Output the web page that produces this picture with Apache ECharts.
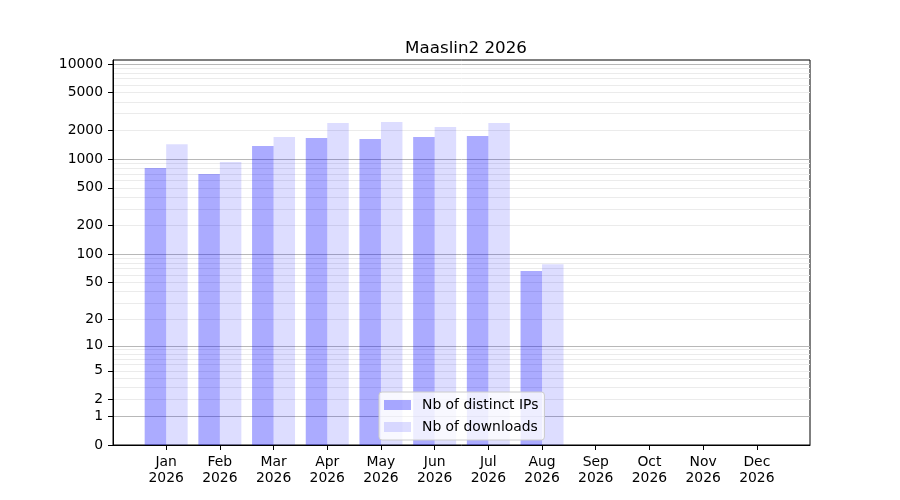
<!DOCTYPE html>
<html>
<head>
<meta charset="utf-8">
<script src="https://cdn.jsdelivr.net/npm/echarts@6/dist/echarts.min.js"></script>
<style>
  html, body { margin: 0; padding: 0; background: #fff; }
  #chart { width: 900px; height: 500px; }
</style>
</head>
<body>
<div id="chart"></div>
<script>
// data
var months = ['Jan', 'Feb', 'Mar', 'Apr', 'May', 'Jun', 'Jul', 'Aug', 'Sep', 'Oct', 'Nov', 'Dec'];
var year = '2026';
var distinctIPs = [810, 700, 1377, 1671, 1632, 1712, 1754, 66, 0, 0, 0, 0];
var downloads = [1435, 935, 1712, 2403, 2460, 2181, 2403, 78, 0, 0, 0, 0];
var yTickLabels = [0, 1, 2, 5, 10, 20, 50, 100, 200, 500, 1000, 2000, 5000, 10000];
var yMajorGrid = [1, 10, 100, 1000, 10000];
var yTop = 11000;

// symlog-like scale: log10(1 + x)
function fwd(v) { return Math.log10(1 + v); }
function inv(t) { return Math.round(Math.pow(10, t) - 1); }

var yMinorGrid = [];
for (var d = 1; d <= 1000; d *= 10) {
  for (var k = 2; k <= 9; k++) yMinorGrid.push(k * d);
}

function toPoints(arr) {
  return arr.map(function (v, i) { return [i, fwd(v)]; });
}

var font = 'DejaVu Sans';
var chart = echarts.init(document.getElementById('chart'), null, { renderer: 'canvas' });

function helperAxis(values, color) {
  return {
    type: 'value',
    position: 'left',
    min: 0,
    max: fwd(yTop),
    axisLine: { show: false, onZero: false },
    axisTick: { show: false, customValues: values.map(fwd) },
    axisLabel: { show: false },
    splitLine: { show: true, lineStyle: { color: color, width: 1 } }
  };
}

var option = {
  animation: false,
  backgroundColor: '#fff',
  title: {
    text: 'Maaslin2 ' + year,
    left: 461,
    top: 35,
    textAlign: 'center',
    textStyle: { fontFamily: font, fontSize: 16.7, fontWeight: 'normal', color: '#000' }
  },
  legend: {
    orient: 'vertical',
    left: 379,
    top: 392,
    padding: [6, 6, 6, 5],
    itemGap: 8,
    itemWidth: 27,
    itemHeight: 10,
    icon: 'rect',
    backgroundColor: 'rgba(255,255,255,0.8)',
    borderColor: '#cccccc',
    borderWidth: 1,
    borderRadius: 3,
    textStyle: { fontFamily: font, fontSize: 13.9, color: '#000', padding: [0, 0, 0, 6] },
    data: ['Nb of distinct IPs', 'Nb of downloads']
  },
  grid: {
    left: 113,
    right: 90,
    top: 60,
    bottom: 55,
    show: true,
    borderColor: '#000',
    borderWidth: 1,
    containLabel: false
  },
  xAxis: {
    type: 'value',
    min: -0.99,
    max: 11.99,
    axisLine: { show: true, onZero: false, lineStyle: { color: '#000', width: 1 } },
    axisTick: { show: true, length: 5, lineStyle: { color: '#000' }, customValues: months.map(function (m, i) { return i; }) },
    axisLabel: {
      customValues: months.map(function (m, i) { return i; }),
      formatter: function (v) { return months[Math.round(v)] + '\n' + year; },
      fontFamily: font,
      fontSize: 13.9,
      lineHeight: 16,
      color: '#000',
      margin: 9
    },
    splitLine: { show: false }
  },
  yAxis: [
    {
      type: 'value',
      position: 'left',
      min: 0,
      max: fwd(yTop),
      axisLine: { show: true, onZero: false, lineStyle: { color: '#000', width: 1 } },
      axisTick: { show: true, length: 5, lineStyle: { color: '#000' }, customValues: yTickLabels.map(fwd) },
      axisLabel: {
        customValues: yTickLabels.map(fwd),
        formatter: function (v) { return String(inv(v)); },
        fontFamily: font,
        fontSize: 13.9,
        color: '#000',
        margin: 10
      },
      splitLine: { show: false }
    },
    helperAxis(yMinorGrid, '#ebebeb'),
    helperAxis(yMajorGrid, '#b8b8b8')
  ],
  series: [
    {
      name: 'Nb of distinct IPs',
      type: 'bar',
      yAxisIndex: 0,
      barWidth: 21.5,
      barGap: '0%',
      itemStyle: { color: 'rgba(0,0,255,0.33)' },
      data: toPoints(distinctIPs)
    },
    {
      name: 'Nb of downloads',
      type: 'bar',
      yAxisIndex: 0,
      barWidth: 21.5,
      barGap: '0%',
      itemStyle: { color: 'rgba(0,0,255,0.135)' },
      data: toPoints(downloads)
    }
  ]
};

chart.setOption(option);
</script>
</body>
</html>
